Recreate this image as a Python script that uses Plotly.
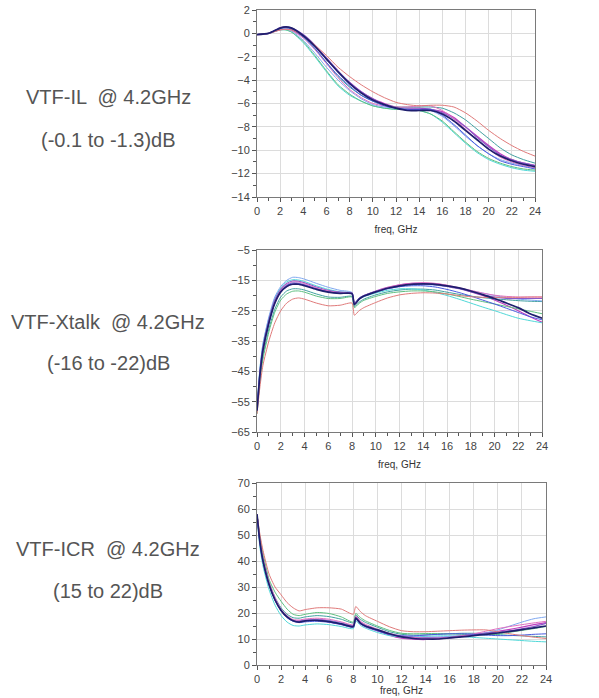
import plotly.graph_objects as go

# ---------------- data ----------------
FREQ_IL = [0, 1, 2, 2.5, 3, 4, 5, 6, 7, 8, 9, 10, 11, 12, 13, 14, 15, 16, 17, 18, 19, 20, 21, 22, 23, 24]
FREQ_XT = [0, 0.25, 0.5, 1, 1.5, 2, 2.5, 3, 3.5, 4, 5, 6, 7, 8, 8.2, 8.6, 9, 10, 11, 12, 13, 14, 15, 16, 17, 18, 19, 20, 21, 22, 23, 24]
FREQ_ICR = FREQ_XT

SERIES_COLORS = ["#e07a7a", "#1f1f6e", "#c040c0", "#40a0a0", "#50d8d8",
                 "#5ec080", "#7fa8f0", "#8a5ac8", "#e070c0", "#4a5ae0"]
SERIES_WIDTHS = [1, 1.7, 1.2, 1, 1, 1, 1, 1.1, 1, 1]

IL_1 = [-0.1, 0.0, 0.3, 0.35, 0.3, -0.2, -1.0, -1.9, -2.9, -3.7, -4.4, -5.0, -5.5, -5.9, -6.1, -6.2, -6.15, -6.15, -6.3, -6.8, -7.5, -8.3, -9.0, -9.6, -10.1, -10.5]
IL_2 = [-0.1, 0.0, 0.45, 0.55, 0.45, -0.2, -1.1, -2.2, -3.3, -4.3, -5.1, -5.7, -6.1, -6.4, -6.6, -6.6, -6.6, -6.9, -7.5, -8.3, -9.1, -9.9, -10.5, -10.9, -11.2, -11.4]
IL_3 = [-0.1, 0.0, 0.4, 0.5, 0.4, -0.2, -1.1, -2.2, -3.3, -4.2, -5.0, -5.6, -6.0, -6.3, -6.4, -6.4, -6.5, -6.7, -7.2, -8.0, -8.8, -9.6, -10.3, -10.8, -11.1, -11.3]
IL_4 = [-0.1, 0.0, 0.35, 0.4, 0.3, -0.3, -1.3, -2.5, -3.7, -4.6, -5.3, -5.8, -6.1, -6.3, -6.3, -6.3, -6.3, -6.4, -6.8, -7.4, -8.2, -9.0, -9.8, -10.4, -10.8, -11.1]
IL_5 = [-0.1, 0.0, 0.3, 0.3, 0.1, -0.8, -2.0, -3.3, -4.5, -5.3, -5.8, -6.2, -6.4, -6.5, -6.5, -6.6, -6.9, -7.6, -8.5, -9.4, -10.2, -10.8, -11.2, -11.5, -11.7, -11.8]
IL_6 = [-0.1, 0.0, 0.3, 0.3, 0.1, -0.7, -1.9, -3.2, -4.4, -5.2, -5.8, -6.2, -6.4, -6.5, -6.5, -6.6, -6.9, -7.5, -8.4, -9.3, -10.1, -10.7, -11.1, -11.4, -11.6, -11.7]
IL_7 = [-0.1, 0.0, 0.4, 0.4, 0.2, -0.6, -1.7, -2.9, -4.0, -4.9, -5.6, -6.1, -6.3, -6.4, -6.5, -6.5, -6.6, -7.1, -7.9, -8.8, -9.6, -10.3, -10.8, -11.1, -11.3, -11.5]
IL_8 = [-0.1, 0.0, 0.5, 0.55, 0.45, -0.1, -1.0, -2.1, -3.2, -4.2, -5.0, -5.6, -6.1, -6.4, -6.5, -6.5, -6.5, -6.8, -7.3, -8.0, -8.9, -9.7, -10.4, -10.8, -11.1, -11.3]
IL_9 = [-0.1, 0.0, 0.3, 0.35, 0.25, -0.4, -1.4, -2.6, -3.8, -4.8, -5.5, -6.0, -6.2, -6.3, -6.3, -6.2, -6.2, -6.6, -7.3, -8.2, -9.1, -9.9, -10.6, -11.0, -11.3, -11.5]
IL_10 = [-0.1, 0.0, 0.45, 0.5, 0.35, -0.3, -1.3, -2.5, -3.6, -4.5, -5.3, -5.8, -6.2, -6.4, -6.5, -6.5, -6.5, -7.0, -7.8, -8.7, -9.6, -10.3, -10.9, -11.2, -11.4, -11.6]

XT_1 = [-59, -50, -43, -35, -29, -25, -22.5, -21.2, -20.8, -21.2, -22.5, -23.4, -23.2, -22.5, -26.5, -25, -24, -22.3, -20.8, -19.8, -19.3, -19.1, -19.2, -19.5, -20, -20.4, -20.6, -20.6, -20.6, -20.6, -20.5, -20.5]
XT_2 = [-58, -46, -38, -29, -22.5, -18.8, -17, -16.3, -16.3, -16.8, -18, -18.9, -19.3, -19.4, -23, -21.2, -20.2, -18.8, -17.6, -16.8, -16.3, -16.2, -16.3, -16.8, -17.5, -18.5, -19.7, -21, -22.5, -24, -26, -27.5]
XT_3 = [-58, -46, -38, -29, -22.5, -18.8, -17, -16.2, -16.2, -16.6, -17.8, -18.7, -19.1, -19.2, -22.7, -21, -20, -18.5, -17.3, -16.5, -16, -15.9, -16.1, -16.7, -17.6, -18.7, -20, -21.5, -23.2, -25, -27, -28.8]
XT_4 = [-58, -47, -40, -31, -24.5, -20.5, -18.5, -17.8, -17.8, -18.2, -19.5, -20.5, -20.6, -20.3, -23.7, -22.2, -21.2, -19.8, -18.8, -18.2, -17.9, -17.9, -18.2, -18.9, -19.6, -20.2, -20.7, -21.1, -21.4, -21.7, -21.9, -22]
XT_5 = [-57, -44, -36, -27.5, -21, -17.5, -15.5, -14.8, -14.9, -15.4, -16.8, -18, -18.8, -19.3, -22.8, -21.2, -20.4, -19.2, -18.3, -17.8, -17.8, -18.2, -19, -20, -21.2, -22.5, -23.8, -25, -26.3, -27.5, -28.3, -29]
XT_6 = [-59, -48, -41, -32, -25.5, -21.5, -19.5, -18.6, -18.5, -18.9, -20.2, -21, -21, -20.5, -24, -22.6, -21.6, -20.3, -19.3, -18.8, -18.5, -18.5, -18.8, -19.5, -20.3, -21.2, -22, -22.8, -23.6, -24.4, -25.2, -26]
XT_7 = [-57, -44, -36, -27, -20.5, -17, -15, -14, -14.1, -14.6, -16, -17.3, -18.3, -19, -22.5, -20.8, -20, -18.6, -17.5, -16.8, -16.5, -16.4, -16.6, -17, -17.6, -18.4, -19.2, -20, -20.7, -21.2, -21.5, -21.8]
XT_8 = [-58, -45, -37, -28, -21.5, -18, -16, -15.2, -15.3, -15.8, -17.2, -18.3, -18.9, -19.2, -22.6, -21, -20.1, -18.7, -17.5, -16.7, -16.3, -16.2, -16.4, -17, -17.8, -18.8, -19.8, -20.5, -21, -21, -21, -21]
XT_9 = [-58, -46, -38, -29, -22, -18.2, -16.3, -15.6, -15.6, -16.1, -17.5, -18.5, -19.1, -19.4, -22.8, -21.1, -20.2, -18.7, -17.4, -16.5, -16, -15.8, -16, -16.6, -17.4, -18.3, -19.2, -19.9, -20.3, -20.5, -20.5, -20.5]
XT_10 = [-58, -46, -38, -29, -22.3, -18.6, -16.6, -15.9, -16, -16.5, -17.8, -18.8, -19.3, -19.5, -23, -21.3, -20.3, -18.9, -17.8, -17.1, -16.8, -16.8, -17.2, -18, -19, -20.2, -21.5, -22.8, -24.2, -25.6, -27, -28]

ICR_1 = [58, 50, 44, 35, 30, 27, 24, 22, 20.8, 21.3, 22, 22, 21.5, 19.5, 22.5, 20.5, 19, 16.8, 14.7, 13.2, 12.8, 12.8, 13, 13.2, 13.4, 13.5, 13.5, 12.8, 12, 11.3, 10.7, 10.2]
ICR_2 = [58, 47, 40, 31, 25, 21, 18.5, 17, 16.5, 17, 17.2, 16.7, 15.8, 14.8, 18, 16, 15, 13.5, 12, 10.8, 10.2, 10, 10, 10.4, 10.8, 11.3, 11.8, 12.3, 12.9, 13.6, 14.3, 15]
ICR_3 = [58, 47, 40, 31, 25, 21, 18.5, 17.2, 17, 17.3, 17.6, 17.1, 16.2, 15.2, 18.5, 16.5, 15.3, 13.3, 11.5, 10.3, 9.9, 9.8, 10, 10.4, 11, 11.6, 12.2, 12.9, 13.7, 14.6, 15.5, 16.3]
ICR_4 = [58, 48, 41, 32, 26, 22, 19.5, 18.2, 18, 18.5, 19, 18.6, 17.6, 16.2, 19.2, 17.5, 16.4, 14.5, 12.8, 11.8, 11.5, 11.6, 11.8, 12, 12.2, 12.2, 12, 11.7, 11.4, 11.2, 11, 10.8]
ICR_5 = [57, 45, 38, 29, 23, 19, 16.5, 15.2, 15, 15.4, 15.8, 15.5, 14.8, 14, 17, 15.2, 14.2, 12.5, 11.3, 10.8, 10.8, 11, 11.2, 11.2, 11, 10.6, 10.3, 10, 9.7, 9.4, 9.1, 8.9]
ICR_6 = [58, 49, 43, 33, 28, 24.5, 21.5, 19.5, 19, 19.5, 20.2, 19.8, 18.5, 16.5, 19.8, 18.2, 17, 15, 13.3, 12.2, 12, 12.1, 12.1, 12, 11.8, 11.6, 11.6, 12, 12.6, 13.3, 14, 14.8]
ICR_7 = [58, 47, 40, 31, 25, 21, 18.5, 17, 16.8, 17.2, 17.4, 17, 16.2, 15, 18.2, 16.3, 15.2, 13.5, 12, 11.2, 10.8, 10.7, 10.8, 11, 11.3, 11.7, 12.4, 13.5, 15, 16.5, 17.8, 18.5]
ICR_8 = [58, 47, 40, 31, 25, 21, 18.3, 17, 16.6, 17, 17.1, 16.6, 15.6, 14.6, 17.8, 15.8, 14.7, 13.1, 11.8, 11, 10.6, 10.5, 10.5, 10.7, 11.2, 11.8, 12.3, 12.7, 13.2, 13.9, 14.8, 16]
ICR_9 = [58, 48, 41, 32, 26, 21.5, 19, 17.5, 17.3, 17.7, 18, 17.6, 16.6, 15.5, 18.8, 16.8, 15.7, 13.8, 12.2, 11.2, 10.6, 10.3, 10.3, 10.6, 11.2, 12, 13, 14, 14.8, 15.5, 16.2, 16.8]
ICR_10 = [58, 47, 40, 31, 25, 21, 18.2, 16.8, 16.3, 16.6, 16.8, 16.4, 15.5, 14.6, 17.8, 15.8, 14.8, 13.2, 11.8, 11.2, 11.2, 11.5, 11.8, 12, 12, 11.8, 11.5, 11.3, 11.3, 11.5, 11.8, 12]

IL_SERIES = [IL_1, IL_2, IL_3, IL_4, IL_5, IL_6, IL_7, IL_8, IL_9, IL_10]
XT_SERIES = [XT_1, XT_2, XT_3, XT_4, XT_5, XT_6, XT_7, XT_8, XT_9, XT_10]
ICR_SERIES = [ICR_1, ICR_2, ICR_3, ICR_4, ICR_5, ICR_6, ICR_7, ICR_8, ICR_9, ICR_10]

X_TICKS = [0, 2, 4, 6, 8, 10, 12, 14, 16, 18, 20, 22, 24]
IL_YTICKS = [2, 0, -2, -4, -6, -8, -10, -12, -14]
XT_YTICKS = [-5, -15, -25, -35, -45, -55, -65]
ICR_YTICKS = [70, 60, 50, 40, 30, 20, 10, 0]

LABELS = [
    ("VTF-IL  @ 4.2GHz", "(-0.1 to -1.3)dB"),
    ("VTF-Xtalk  @ 4.2GHz", "(-16 to -22)dB"),
    ("VTF-ICR  @ 4.2GHz", "(15 to 22)dB"),
]
X_TITLE = "freq, GHz"

# ---------------- figure ----------------
W, H = 599, 698
fig = go.Figure()

panels = [
    (FREQ_IL, IL_SERIES, "x", "y"),
    (FREQ_XT, XT_SERIES, "x2", "y2"),
    (FREQ_ICR, ICR_SERIES, "x3", "y3"),
]
for freq, series, xa, ya in panels:
    order = list(range(len(series)))
    order = order[2:] + order[:2]  # draw red/navy last (on top)
    for i in order:
        fig.add_trace(go.Scatter(
            x=freq, y=series[i], mode="lines", xaxis=xa, yaxis=ya,
            line=dict(color=SERIES_COLORS[i], width=SERIES_WIDTHS[i], shape="spline", smoothing=0.6),
            showlegend=False, hoverinfo="skip"))


def px_x(p):
    return p / W


def px_y(p):
    return 1 - p / H


FONT = "Liberation Sans, Arial, sans-serif"
tick_font = dict(family=FONT, size=11, color="#444")


def xaxis(domain, anchor, standoff):
    return dict(domain=domain, anchor=anchor, range=[0, 24], tickvals=X_TICKS,
                showline=True, mirror=True, linecolor="#7a7a7a", linewidth=1,
                showgrid=True, gridcolor="#dcdcdc", gridwidth=1,
                ticks="outside", ticklen=4, tickcolor="#555",
                minor=dict(dtick=1, ticks="outside", ticklen=3, tickcolor="#555", showgrid=False),
                tickfont=tick_font, zeroline=False, automargin=False,
                title=dict(text=X_TITLE, font=dict(family=FONT, size=10, color="#333"), standoff=standoff))


def yaxis(domain, anchor, rng, tv, minor_dtick):
    return dict(domain=domain, anchor=anchor, range=rng, tickvals=tv,
                showline=True, mirror=True, linecolor="#7a7a7a", linewidth=1,
                showgrid=True, gridcolor="#dcdcdc", gridwidth=1,
                ticks="outside", ticklen=4, tickcolor="#555",
                minor=dict(dtick=minor_dtick, tick0=rng[0], ticks="outside", ticklen=3, tickcolor="#555", showgrid=False),
                tickfont=tick_font, zeroline=False, automargin=False)


fig.update_layout(
    width=W, height=H, margin=dict(l=0, r=0, t=0, b=0, autoexpand=False),
    paper_bgcolor="white", plot_bgcolor="white",
    xaxis=xaxis([px_x(257), px_x(535)], "y", 9),
    yaxis=yaxis([px_y(197), px_y(10)], "x", [-14, 2], IL_YTICKS, 1),
    xaxis2=xaxis([px_x(257), px_x(542)], "y2", 9),
    yaxis2=yaxis([px_y(432), px_y(250)], "x2", [-65, -5], XT_YTICKS, 5),
    xaxis3=xaxis([px_x(257), px_x(546)], "y3", 1),
    yaxis3=yaxis([px_y(665), px_y(483)], "x3", [0, 70], ICR_YTICKS, 5),
)

label_font = dict(family=FONT, size=20, color="#555")
label_pos = [(97, 140), (322, 363), (549, 591)]
for (l1, l2), (y1, y2) in zip(LABELS, label_pos):
    fig.add_annotation(text=l1, x=px_x(108), y=px_y(y1), xref="paper", yref="paper",
                       showarrow=False, xanchor="center", yanchor="middle", font=label_font)
    fig.add_annotation(text=l2, x=px_x(108), y=px_y(y2), xref="paper", yref="paper",
                       showarrow=False, xanchor="center", yanchor="middle", font=label_font)

fig.write_html("out.html", config={"displayModeBar": False},
               post_script="document.body.style.margin='0px';")
